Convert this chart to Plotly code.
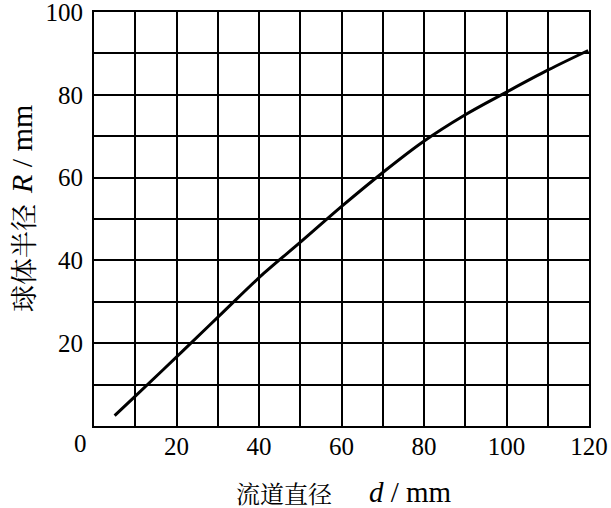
import plotly.graph_objects as go

# Data
d_vals = [5.0, 9.7, 21.6, 31.3, 41.2, 50.4, 60.1, 70.1, 79.7, 89.7, 99.9, 110.1, 119.8]
R_vals = [2.5, 6.9, 18.2, 27.5, 36.9, 44.7, 53.1, 61.3, 68.6, 75.0, 80.6, 86.0, 90.7]

x_tickvals = [0, 10, 20, 30, 40, 50, 60, 70, 80, 90, 100, 110, 120]
x_ticktext = ["", "", "20", "", "40", "", "60", "", "80", "", "100", "", "120"]
y_tickvals = [0, 10, 20, 30, 40, 50, 60, 70, 80, 90, 100]
y_ticktext = ["", "", "20", "", "40", "", "60", "", "80", "", "100"]

x_title_cn = "流道直径"
x_title_unit = "<i>d</i> / mm"
y_title_cn = "球体半径"
y_title_unit = "<i>R</i> / mm"
corner_label = "0"

serif = "Liberation Serif, Times New Roman, Noto Serif CJK SC, Noto Sans CJK SC, serif"
cjk = "Noto Serif CJK SC, Noto Sans CJK SC, serif"

fig = go.Figure()
fig.add_trace(go.Scatter(
    x=d_vals, y=R_vals, mode="lines",
    line=dict(color="black", width=3, shape="spline", smoothing=1.0),
    showlegend=False, hoverinfo="skip",
))

axis_common = dict(
    showgrid=True, gridcolor="black", gridwidth=1.6,
    showline=True, linecolor="black", linewidth=2, mirror=True,
    zeroline=False, ticks="", automargin=False,
    tickfont=dict(family=serif, size=25, color="black"),
    tickmode="array", ticklabeloverflow="allow",
)

def ann(text, xshift, yshift, size, family, angle=0):
    return dict(text=text, xref="paper", yref="paper", x=0, y=0,
                xanchor="center", yanchor="middle", xshift=xshift, yshift=yshift,
                textangle=angle, showarrow=False,
                font=dict(family=family, size=size, color="black"))

fig.update_layout(
    width=611, height=508,
    margin=dict(l=94, r=22, t=12, b=82, autoexpand=False),
    paper_bgcolor="white", plot_bgcolor="white",
    font=dict(family=serif, color="black"),
    xaxis=dict(range=[0, 120], tickvals=x_tickvals, ticktext=x_ticktext,
               ticklabelstandoff=-3, **axis_common),
    yaxis=dict(range=[0, 100], tickvals=y_tickvals, ticktext=y_ticktext,
               ticklabelstandoff=4, **axis_common),
    annotations=[
        ann(x_title_cn, 189.5, -66, 24, cjk),
        ann(x_title_unit, 316, -66, 29, serif),
        ann(y_title_cn, -72, 168, 27, cjk, -90),
        ann(y_title_unit, -73, 276, 30, serif, -90),
        ann(corner_label, -14, -17, 25, serif),
    ],
)

fig.write_html(
    "out.html",
    config={"displayModeBar": False},
    post_script="document.body.style.margin='0';document.body.style.padding='0';",
)
